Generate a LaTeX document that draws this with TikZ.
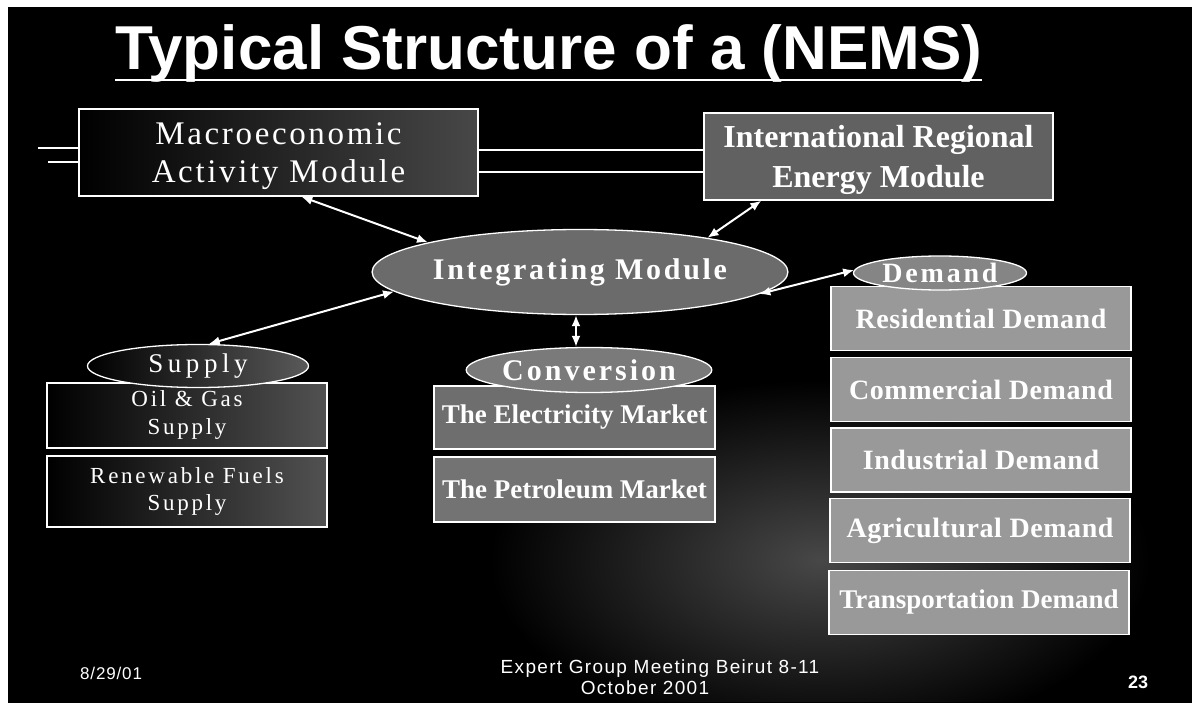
\documentclass[tikz,border=0pt]{standalone}
\usepackage{fontspec}
\setmainfont{Liberation Serif}
\newfontfamily\sansfam{Liberation Sans}
\usetikzlibrary{shapes.geometric,arrows.meta,calc}
\begin{document}
\begin{tikzpicture}[x=1pt,y=-1pt,
  box/.style={rectangle, draw=white, line width=1.3pt, inner sep=0pt, text=white, align=center},
  oval/.style={ellipse, draw=white, line width=1.3pt, inner sep=0pt, text=white, align=center},
  label/.style={inner sep=0pt, text=white, align=center},
  dembox/.style={box, minimum width=300pt, minimum height=64pt, fill=black!40,
     font=\fontsize{28}{32}\selectfont\bfseries\addfontfeature{LetterSpace=2}},
  link/.style={draw=white, line width=2pt, {Latex[length=11pt,width=9pt]}-{Latex[length=11pt,width=9pt]}},
  thinline/.style={draw=white, line width=1.2pt}]
\useasboundingbox (0,0) rectangle (1192,714);
\fill[white] (0,0) rectangle (1192,714);
\fill[black] (8,7) rectangle (1192,703);
\begin{scope}
\clip (8,7) rectangle (1192,701);
\shade[inner color=black!72, outer color=black] (820,560) ellipse [x radius=330, y radius=180];
\end{scope}

% title
\node[anchor=base west, inner sep=0pt, text=white, font=\sansfam\bfseries\fontsize{62}{70}\selectfont] (title) at (115,70) {Typical Structure of a (NEMS)};
\coordinate (ul) at (115,80);
\draw[white, line width=2.8pt] (ul) -- (ul -| title.east);

% top modules
\node[box, minimum width=399pt, minimum height=87pt, left color=black, right color=black!72] (macro) at (278.5,152.5) {};
\node[label, font=\fontsize{33}{38}\selectfont\addfontfeature{LetterSpace=8}] (macrotxt) at ([yshift=-4pt]macro.center) {Macroeconomic\\Activity Module};
\node[box, minimum width=349pt, minimum height=87pt, fill=black!62] (ire) at (878.5,156.5) {};
\node[label, font=\fontsize{32}{40}\selectfont\bfseries] (iretxt) at ([yshift=-3pt]ire.center) {International Regional\\Energy Module};

% lines
\coordinate (a1) at (38,148);
\coordinate (a2) at (48,162);
\draw[thinline] (a1) -- (a1 -| macro.west);
\draw[thinline] (a2) -- (a2 -| macro.west);
\coordinate (b1) at ([yshift=2.5pt]macro.east);
\coordinate (b2) at ([yshift=-19.5pt]macro.east);
\draw[thinline] (b1) -- (b1 -| ire.west);
\draw[thinline] (b2) -- (b2 -| ire.west);

% integrating
\node[oval, minimum width=389pt, minimum height=85pt, fill=black!58,
  font=\fontsize{30}{34}\selectfont\bfseries\addfontfeature{LetterSpace=9}] (integ) at (580,272) {Integrating Module};

% supply
\node[box, minimum width=280pt, minimum height=65pt, left color=black, right color=black!68,
  font=\fontsize{23}{28}\selectfont\addfontfeature{LetterSpace=12}] (oil) at (187,415.5) {Oil \& Gas\\Supply};
\node[box, minimum width=280pt, minimum height=71pt, left color=black, right color=black!68,
  font=\fontsize{23}{27}\selectfont\addfontfeature{LetterSpace=12}] (renew) at (187,491.5) {Renewable Fuels\\Supply};
\node[oval, minimum width=221pt, minimum height=43pt, left color=black, right color=black!65,
  font=\fontsize{27}{30}\selectfont\addfontfeature{LetterSpace=17}] (supply) at (198,366) {Supply};

% conversion
\node[box, minimum width=281pt, minimum height=63pt, fill=black!57,
  font=\fontsize{27}{30}\selectfont\bfseries] (elec) at (574.5,417.5) {The Electricity Market};
\node[box, minimum width=281pt, minimum height=65pt, fill=black!55,
  font=\fontsize{27}{30}\selectfont\bfseries] (petro) at (574.5,489.5) {The Petroleum Market};
\node[oval, minimum width=230pt, minimum height=45pt, fill=black!52,
  font=\fontsize{30}{32}\selectfont\bfseries\addfontfeature{LetterSpace=10}] (conv) at (589,370) {Conversion};

% demand
\node[dembox] (res) at (981,318.5) {Residential Demand};
\node[dembox] (com) at (981,389.5) {Commercial Demand};
\node[dembox] (ind) at (981,460) {Industrial Demand};
\node[dembox] (agr) at (980,530.5) {Agricultural Demand};
\node[dembox, font=\fontsize{27}{30}\selectfont\bfseries] (tra) at (979,602.5) {Transportation Demand};
\node[oval, minimum width=173pt, minimum height=34pt, fill=black!48,
  font=\fontsize{28}{30}\selectfont\bfseries\addfontfeature{LetterSpace=10}] (demand) at (940,273) {Demand};

% arrows
\draw[link] ([xshift=223pt]macro.south west) -- (integ.169);
\draw[link] ([xshift=58pt]ire.south west) -- (integ.15);
\draw[link] (demand.178) -- (integ.-7);
\draw[link] (supply.64) -- (integ.186);
\draw[link] ([xshift=-4pt]integ.south) -- ([xshift=-4pt]integ.south |- conv.north);

% footer
\node[anchor=base west, inner sep=0pt, text=white, font=\sansfam\fontsize{17}{18}\selectfont\addfontfeature{LetterSpace=5}] (date) at (80,679) {8/29/01};
\node[anchor=base, inner sep=0pt, text=white, font=\sansfam\fontsize{19}{22}\selectfont\addfontfeature{LetterSpace=7}] (meet) at (660,673) {Expert Group Meeting Beirut 8-11};
\node[anchor=base, inner sep=0pt, text=white, font=\sansfam\fontsize{19}{22}\selectfont\addfontfeature{LetterSpace=7}] (oct) at (645,694) {October 2001};
\node[anchor=base west, inner sep=0pt, text=white, font=\sansfam\bfseries\fontsize{18}{20}\selectfont] (page) at (1128,688) {23};
\end{tikzpicture}
\end{document}
